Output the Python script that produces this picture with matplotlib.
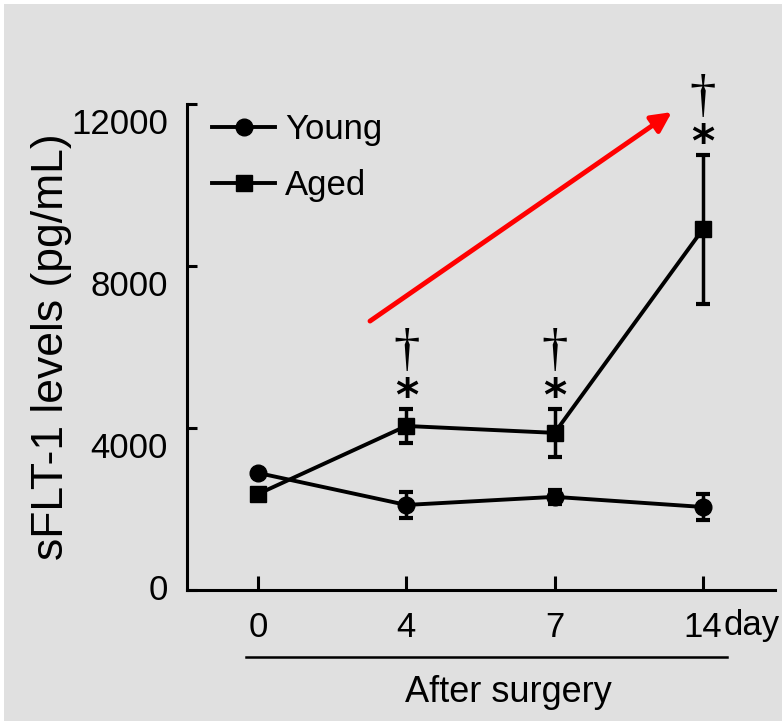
import matplotlib
matplotlib.use("Agg")
import matplotlib.pyplot as plt
from matplotlib.patches import Rectangle

# ---- data ----
days = ["0", "4", "7", "14"]
young = [2890, 2100, 2300, 2050]
young_err = [0, 320, 180, 330]
aged = [2370, 4050, 3880, 8910]
aged_err = [0, 430, 600, 1840]
sig_idx = [1, 2, 3]          # aged points marked * and †
yticks = [0, 4000, 8000, 12000]

SANS = "Liberation Sans"
SERIF = "Liberation Serif"
FS = 25
BG = "#e0e0e0"

W, H = 782, 721
fig = plt.figure(figsize=(W / 100, H / 100), dpi=100)
fig.patch.set_facecolor("white")
fig.add_artist(Rectangle((4 / W, 0), 1, 1 - 4 / H, transform=fig.transFigure,
                         facecolor=BG, edgecolor="none", zorder=-10))

ax = fig.add_axes([187 / W, 1 - 590 / H, 588 / W, 486 / H])
ax.set_facecolor("none")
x = list(range(len(days)))

lw = 2.8
for vals, errs in [(young, young_err), (aged, aged_err)]:
    ax.errorbar(x, vals, yerr=errs, fmt="none", ecolor="black", capsize=5, capthick=3,
                elinewidth=2.5, clip_on=False, zorder=3)
ax.plot(x, young, color="black", lw=lw, marker="o", ms=12, label="Young", clip_on=False, zorder=4)
ax.plot(x, aged, color="black", lw=lw, marker="s", ms=12, label="Aged", clip_on=False, zorder=4)

ax.set_xlim(-0.479, 3.486)
ax.set_ylim(0, 12000)

for s in ["top", "right"]:
    ax.spines[s].set_visible(False)
for s in ["left", "bottom"]:
    ax.spines[s].set_linewidth(2.2)

ax.set_xticks(x)
ax.set_xticklabels(days, fontfamily=SANS, fontsize=FS)
ax.tick_params(axis="x", direction="in", length=10, width=2.2, pad=15)
ax.set_yticks(yticks)
ax.set_yticklabels([])
ax.tick_params(axis="y", direction="in", length=7, width=2.2)

# y tick labels (sit a little below their ticks, except 0)
for v in yticks:
    dy = 0 if v == 0 else -21
    ax.annotate(f"{v}", xy=(0, v), xycoords=("axes fraction", "data"),
                xytext=(-19, dy), textcoords="offset pixels", ha="right", va="center",
                fontfamily=SANS, fontsize=FS)

ax.text(-0.23, 0.5, "sFLT-1 levels (pg/mL)", transform=ax.transAxes, rotation=90,
        ha="center", va="center", fontfamily=SANS, fontsize=32)

# "day" after the last tick label, underline, and axis title
ax.annotate("day", xy=(3, 0), xycoords="data", xytext=(21, -36), textcoords="offset pixels",
            ha="left", va="center", fontfamily=SANS, fontsize=FS, annotation_clip=False)
ax.plot([-0.081, 3.16], [-0.138, -0.138], color="black", lw=1.8,
        transform=ax.get_xaxis_transform(), clip_on=False)
ax.text(1.69, -0.21, "After surgery", transform=ax.get_xaxis_transform(),
        ha="center", va="center", fontfamily=SANS, fontsize=26)

# significance marks above the aged error bars
for i in sig_idx:
    top = aged[i] + aged_err[i]
    ax.annotate("*", xy=(i, top), xytext=(0, 11), textcoords="offset pixels",
                ha="center", va="center", fontfamily="DejaVu Sans", fontsize=32,
                fontweight="bold", annotation_clip=False)
    ax.annotate("\u2020", xy=(i, top), xytext=(0, 57), textcoords="offset pixels",
                ha="center", va="center", fontfamily=SERIF, fontsize=38,
                annotation_clip=False)

# red trend arrow
ax.annotate("", xy=(2.79, 11800), xytext=(0.755, 6640),
            arrowprops=dict(arrowstyle="-|>,head_length=1.2,head_width=0.6",
                            color="#ff0000", lw=3.5, shrinkA=0, shrinkB=0),
            annotation_clip=False)

ax.legend(loc="upper left", bbox_to_anchor=(0.043, 0.981), frameon=False,
          prop={"family": SANS, "size": FS}, handlelength=1.8,
          handletextpad=0.3, labelspacing=0.65, borderpad=0, borderaxespad=0)

fig.savefig("out.png", dpi=100, facecolor=fig.get_facecolor())
